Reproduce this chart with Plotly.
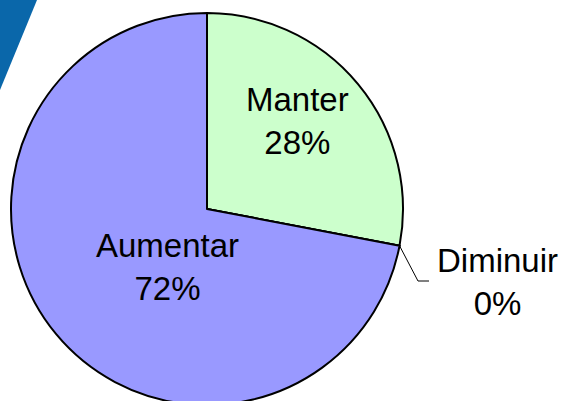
import math
import plotly.graph_objects as go

# ---- data ----
labels = ["Manter", "Diminuir", "Aumentar"]
values = [28, 0, 72]
colors = ["#CCFFCC", "#FFFFFF", "#9999FF"]

W, H = 567, 410
CX, CY, R = 207, 209, 196


def px(x):
    return x / W


def py(y):
    return 1 - y / H


fig = go.Figure(go.Pie(
    labels=labels,
    values=values,
    sort=False,
    direction="clockwise",
    rotation=0,
    marker=dict(colors=colors, line=dict(color="black", width=2)),
    textinfo="none",
    hoverinfo="label+percent",
    showlegend=False,
    domain=dict(x=[px(CX - R), px(CX + R)], y=[py(CY + R), py(CY - R)]),
))

total = sum(values)
font = dict(family="Liberation Sans, Arial, sans-serif", size=33, color="black")

label_pos = {"Manter": (297, 121), "Aumentar": (167, 267), "Diminuir": (497, 282)}
for lab, val in zip(labels, values):
    x, y = label_pos[lab]
    fig.add_annotation(x=px(x), y=py(y), xref="paper", yref="paper",
                       text=f"{lab}<br>{round(100 * val / total)}%",
                       showarrow=False, font=font, align="center",
                       xanchor="center", yanchor="middle")

# leader line for the zero slice, starting at the slice boundary
theta = 2 * math.pi * values[0] / total
sx = CX + R * math.sin(theta)
sy = CY - R * math.cos(theta)
fig.add_shape(type="path", xref="paper", yref="paper",
              path=f"M {px(sx)} {py(sy)} L {px(418)} {py(281)} L {px(429)} {py(281)}",
              line=dict(color="black", width=1))

# decorative blue corner
fig.add_shape(type="path", xref="paper", yref="paper",
              path=f"M 0 1 L {px(37)} 1 L 0 {py(90)} Z",
              fillcolor="#0A67AA", line=dict(width=0), layer="below")

fig.update_layout(width=W, height=H, margin=dict(l=0, r=0, t=0, b=0),
                  paper_bgcolor="white", plot_bgcolor="white")

fig.write_html("out.html", config={"displayModeBar": False},
               post_script="document.body.style.margin='0';document.body.style.overflow='hidden';document.documentElement.style.overflow='hidden';")
